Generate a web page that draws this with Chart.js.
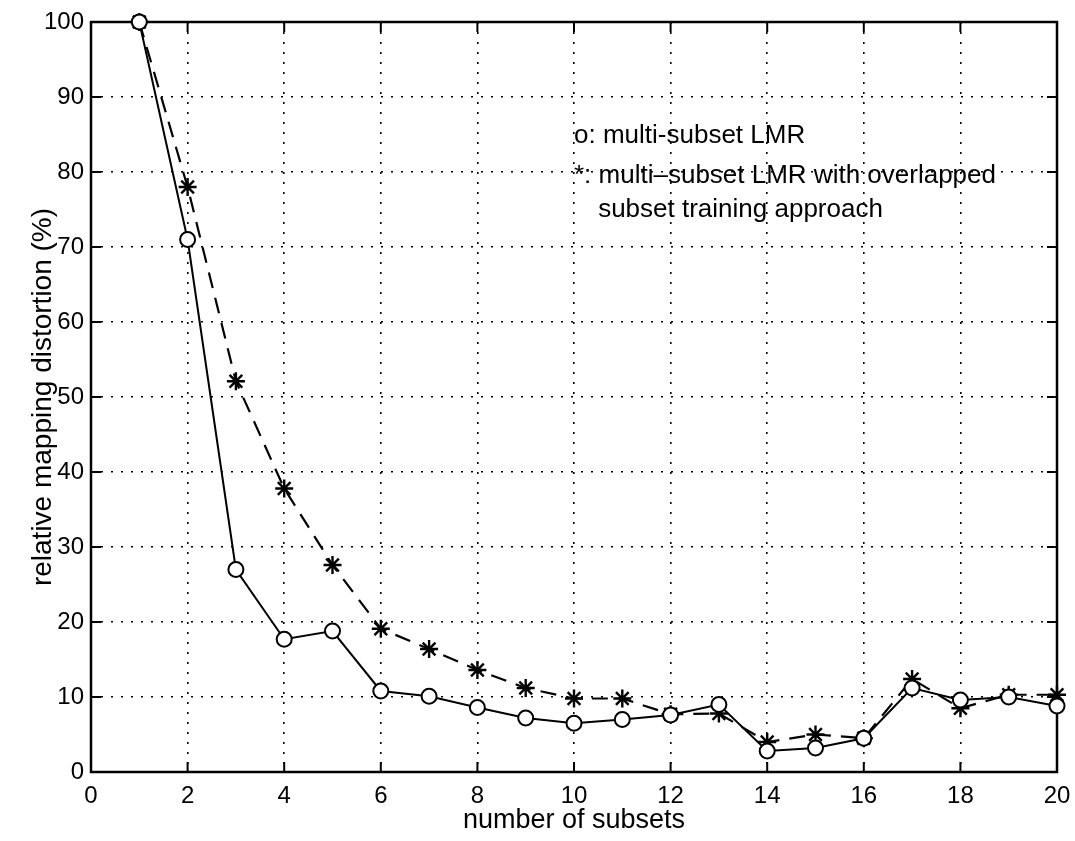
<!DOCTYPE html>
<html>
<head>
<meta charset="utf-8">
<script src="https://cdn.jsdelivr.net/npm/chart.js@4.4.0/dist/chart.umd.min.js"></script>
<style>
  html, body { margin: 0; padding: 0; background: #fff; }
  #wrap { width: 1075px; height: 841px; }
</style>
</head>
<body>
<div id="wrap"><canvas id="chart" width="1075" height="841"></canvas></div>
<script>
// データ
const subsets = [1, 2, 3, 4, 5, 6, 7, 8, 9, 10, 11, 12, 13, 14, 15, 16, 17, 18, 19, 20];
const lmr = [100, 71.0, 27.0, 17.7, 18.8, 10.8, 10.1, 8.6, 7.2, 6.5, 7.0, 7.6, 9.0, 2.8, 3.2, 4.5, 11.2, 9.6, 10.0, 8.8];
const lmrOverlap = [100, 78.0, 52.1, 37.8, 27.6, 19.1, 16.4, 13.6, 11.2, 9.8, 9.8, 7.7, 7.8, 4.0, 5.0, 4.5, 12.4, 8.5, 10.3, 10.3];
const xTicks = [0, 2, 4, 6, 8, 10, 12, 14, 16, 18, 20];
const yTicks = [0, 10, 20, 30, 40, 50, 60, 70, 80, 90, 100];
const noteLines = ['o: multi-subset LMR', '*: multi\u2013subset LMR with overlapped', 'subset training approach'];
const noteX = [10, 10, 10.5];
const noteY = [83.9, 78.5, 74.0];

const FONT = '"Liberation Sans", Arial, sans-serif';

// 枠と内向きの目盛り
const framePlugin = {
  id: 'frame',
  beforeDatasetsDraw(chart) {
    const { ctx, chartArea: a, scales } = chart;
    ctx.save();
    ctx.strokeStyle = '#000';
    ctx.lineWidth = 2.5;
    ctx.setLineDash([]);
    ctx.strokeRect(a.left, a.top, a.right - a.left, a.bottom - a.top);
    ctx.lineWidth = 2;
    const len = 10;
    xTicks.forEach(v => {
      const px = scales.x.getPixelForValue(v);
      ctx.beginPath();
      ctx.moveTo(px, a.bottom); ctx.lineTo(px, a.bottom - len);
      ctx.moveTo(px, a.top); ctx.lineTo(px, a.top + len);
      ctx.stroke();
    });
    yTicks.forEach(v => {
      const py = scales.y.getPixelForValue(v);
      ctx.beginPath();
      ctx.moveTo(a.left, py); ctx.lineTo(a.left + len, py);
      ctx.moveTo(a.right, py); ctx.lineTo(a.right - len, py);
      ctx.stroke();
    });
    ctx.restore();
  }
};

// 注記テキスト
const notePlugin = {
  id: 'notes',
  afterDraw(chart) {
    const { ctx, scales } = chart;
    ctx.save();
    ctx.fillStyle = '#000';
    ctx.font = '26px ' + FONT;
    ctx.textBaseline = 'alphabetic';
    ctx.textAlign = 'left';
    noteLines.forEach((t, i) => {
      ctx.fillText(t, scales.x.getPixelForValue(noteX[i]), scales.y.getPixelForValue(noteY[i]));
    });
    ctx.restore();
  }
};

new Chart(document.getElementById('chart'), {
  type: 'line',
  data: {
    datasets: [{
      label: 'multi-subset LMR',
      data: subsets.map((x, i) => ({ x, y: lmr[i] })),
      borderColor: '#000',
      borderWidth: 2,
      pointStyle: 'circle',
      pointRadius: 7.5,
      pointBorderWidth: 2,
      pointBorderColor: '#000',
      pointBackgroundColor: '#fff',
      clip: false,
      tension: 0
    }, {
      label: 'multi-subset LMR with overlapped subset training approach',
      data: subsets.map((x, i) => ({ x, y: lmrOverlap[i] })),
      borderColor: '#000',
      borderWidth: 2.2,
      borderDash: [16, 10],
      pointStyle: 'star',
      pointRadius: 9,
      pointBorderWidth: 2.4,
      pointBorderColor: '#000',
      pointBackgroundColor: '#000',
      clip: false,
      tension: 0
    }]
  },
  options: {
    responsive: false,
    animation: false,
    devicePixelRatio: 1,
    layout: { padding: { left: 0, right: 18, top: 22, bottom: 0 } },
    plugins: {
      legend: { display: false },
      tooltip: { enabled: false }
    },
    scales: {
      x: {
        type: 'linear',
        min: 0,
        max: 20,
        afterBuildTicks: s => { s.ticks = xTicks.map(v => ({ value: v })); },
        afterFit: s => { s.height = 69; s.paddingLeft = 0; s.paddingRight = 0; },
        grid: { color: '#000', lineWidth: 1.6, drawTicks: false },
        border: { display: false, dash: [2, 8] },
        ticks: { color: '#000', padding: 10, maxRotation: 0, font: { family: FONT, size: 24 } },
        title: { display: true, text: 'number of subsets', color: '#000', padding: { top: 0, bottom: 4 }, font: { family: FONT, size: 27 } }
      },
      y: {
        min: 0,
        max: 100,
        afterBuildTicks: s => { s.ticks = yTicks.map(v => ({ value: v })); },
        afterFit: s => { s.width = 91; },
        grid: { color: '#000', lineWidth: 1.6, drawTicks: false },
        border: { display: false, dash: [2, 8] },
        ticks: { color: '#000', padding: 7, font: { family: FONT, size: 24 } },
        title: { display: true, text: 'relative mapping distortion (%)', color: '#000', padding: { top: 26, bottom: 0 }, font: { family: FONT, size: 28 } }
      }
    }
  },
  plugins: [framePlugin, notePlugin]
});
</script>
</body>
</html>
